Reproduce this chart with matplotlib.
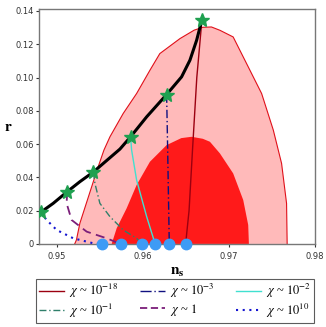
import matplotlib
matplotlib.use("Agg")
import matplotlib.pyplot as plt
from matplotlib.lines import Line2D

plt.rcParams['mathtext.fontset'] = 'stix'

# Outer (95%) contour boundary, (n_s, r)
outer_ns = [0.9521, 0.9523, 0.9527, 0.9537, 0.9547, 0.9555, 0.9562, 0.95774, 0.9593,
            0.96085, 0.9620, 0.96434, 0.9660, 0.9670, 0.9680, 0.96899, 0.97053,
            0.97248, 0.97384, 0.9752, 0.97616, 0.97674, 0.97681]
outer_r = [0.0000, 0.0024, 0.0124, 0.0284, 0.0444, 0.0564, 0.0644, 0.0784, 0.0904,
           0.1044, 0.1144, 0.1234, 0.1285, 0.1302, 0.1304, 0.1284, 0.1244,
           0.1044, 0.0904, 0.0684, 0.0484, 0.0244, 0.0000]

# Inner (68%) contour boundary
inner_ns = [0.9564, 0.95698, 0.95814, 0.9593, 0.96085, 0.96279, 0.9645, 0.9657,
            0.9670, 0.96783, 0.96899, 0.97053, 0.9717, 0.97228, 0.97236]
inner_r = [0.0000, 0.0094, 0.0214, 0.0354, 0.0494, 0.0594, 0.0636, 0.0644,
           0.0632, 0.0614, 0.0544, 0.0424, 0.0264, 0.0114, 0.0000]

# Black curve through the stars
black_ns = [0.94814, 0.9496, 0.95123, 0.9527, 0.95426, 0.95736, 0.9586, 0.96047,
            0.96279, 0.96453, 0.9655, 0.96628, 0.9669]
black_r = [0.0190, 0.0244, 0.0314, 0.0374, 0.0432, 0.0570, 0.0644, 0.0764,
           0.0898, 0.1004, 0.1104, 0.1224, 0.1348]

star_ns = [0.94814, 0.95123, 0.95426, 0.9586, 0.96279, 0.9669]
star_r = [0.0190, 0.0314, 0.0432, 0.0644, 0.0898, 0.1348]

dot_ns = [0.9553, 0.95744, 0.95988, 0.9614, 0.9631, 0.96503]
dot_r = [0, 0, 0, 0, 0, 0]

# chi lines
chi_m18_ns = [0.9669, 0.9663, 0.9658, 0.9654, 0.9650]
chi_m18_r = [0.1348, 0.1000, 0.0564, 0.0200, 0.0000]
chi_m3_ns = [0.96279, 0.9629, 0.9630, 0.9631]
chi_m3_r = [0.0898, 0.0600, 0.0300, 0.0000]
chi_m2_ns = [0.9586, 0.95872, 0.9593, 0.96047, 0.96131, 0.9614]
chi_m2_r = [0.0644, 0.0564, 0.0384, 0.0164, 0.0024, 0.0000]
chi_m1_ns = [0.95426, 0.95445, 0.95503, 0.9562, 0.95774, 0.9593, 0.95988]
chi_m1_r = [0.0432, 0.0364, 0.0244, 0.0164, 0.0084, 0.0034, 0.0000]
chi_0_ns = [0.95123, 0.95116, 0.95174, 0.95349, 0.95581, 0.95744]
chi_0_r = [0.0314, 0.0244, 0.0144, 0.0074, 0.0034, 0.0000]
chi_10_ns = [0.94814, 0.94884, 0.9500, 0.95193, 0.95426, 0.9553]
chi_10_r = [0.0190, 0.0144, 0.0084, 0.0034, 0.0004, 0.0000]

x_ticks = [0.95, 0.96, 0.97, 0.98]
x_ticklabels = ["0.95", "0.96", "0.97", "0.98"]
y_ticks = [0, 0.02, 0.04, 0.06, 0.08, 0.10, 0.12, 0.14]
y_ticklabels = ["0", "0.02", "0.04", "0.06", "0.08", "0.10", "0.12", "0.14"]

legend_labels = [r'$\chi$ ~ $10^{-18}$', r'$\chi$ ~ $10^{-1}$', r'$\chi$ ~ $10^{-3}$',
                 r'$\chi$ ~ $1$', r'$\chi$ ~ $10^{-2}$', r'$\chi$ ~ $10^{10}$']

C18, C3, C2, C1, C0, C10 = '#9B0010', '#101080', '#40E0D0', '#2F7F6A', '#7B1E7A', '#1515D0'

fig = plt.figure(figsize=(3.26, 3.27), dpi=100)
ax = fig.add_axes([0.121, 0.254, 0.844, 0.7185])

ax.fill(outer_ns, outer_r, color='#FFBABA', zorder=1, lw=0)
ax.plot(outer_ns, outer_r, color='#E0101A', lw=0.8, zorder=2)
ax.fill(inner_ns, inner_r, color='#FF1A1A', zorder=2, lw=0)

ax.plot(chi_m18_ns, chi_m18_r, color=C18, lw=1.0, zorder=3)
ax.plot(chi_m3_ns, chi_m3_r, color=C3, lw=1.0, dashes=(6, 2, 1, 2), zorder=3)
ax.plot(chi_m2_ns, chi_m2_r, color=C2, lw=1.0, zorder=3)
ax.plot(chi_m1_ns, chi_m1_r, color=C1, lw=1.0, dashes=(5, 2, 1, 2), zorder=3)
ax.plot(chi_0_ns, chi_0_r, color=C0, lw=1.3, dashes=(5, 3), zorder=3)
ax.plot(chi_10_ns, chi_10_r, color=C10, lw=1.5, dashes=(1, 2.2), zorder=3)

ax.plot(black_ns, black_r, color='black', lw=2.2, zorder=4, solid_capstyle='round',
        solid_joinstyle='round')
ax.plot(star_ns, star_r, ls='none', marker='*', ms=10, color='#1FA050',
        markeredgecolor='#1FA050', zorder=5)
ax.plot(dot_ns, dot_r, ls='none', marker='o', ms=7.5, color='#3D9BF5',
        markeredgecolor='#3D9BF5', zorder=6, clip_on=False)

ax.set_xlim(0.948, 0.98)
ax.set_ylim(0, 0.1412)
ax.set_xticks(x_ticks)
ax.set_xticklabels(x_ticklabels)
ax.set_yticks(y_ticks)
ax.set_yticklabels(y_ticklabels)
ax.tick_params(axis='x', labelsize=6, colors='#333333', length=2.5, width=0.8, pad=3.5)
ax.tick_params(axis='y', labelsize=6, colors='#333333', length=2.5, width=0.8, pad=1.5)
for s in ax.spines.values():
    s.set_color('#777777')
    s.set_linewidth(1.0)

ax.set_xlabel(r'$\mathbf{n}_\mathbf{s}$', fontsize=11, labelpad=2)
ax.set_ylabel(r'$\mathbf{r}$', fontsize=11, rotation=0, labelpad=5, va='center')

handles = [
    Line2D([], [], color=C18, lw=1.0),
    Line2D([], [], color=C1, lw=1.0, dashes=(5, 2, 1, 2)),
    Line2D([], [], color=C3, lw=1.0, dashes=(8, 2, 1, 2)),
    Line2D([], [], color=C0, lw=1.3, dashes=(4, 2)),
    Line2D([], [], color=C2, lw=1.0),
    Line2D([], [], color=C10, lw=1.5, dashes=(1, 2.2)),
]
leg = fig.legend(handles, legend_labels, ncol=3, loc='center',
                 bbox_to_anchor=(36/326, 1 - 320/327, 278/326, 38/327),
                 mode='expand', frameon=True, fancybox=False,
                 edgecolor='#333333', handlelength=2.0, handletextpad=0.4,
                 columnspacing=0.6, borderpad=0.25, labelspacing=0.1,
                 borderaxespad=0,
                 prop={'family': 'Liberation Serif', 'size': 9})
leg.get_frame().set_linewidth(0.8)

fig.savefig('out.png', dpi=100)
